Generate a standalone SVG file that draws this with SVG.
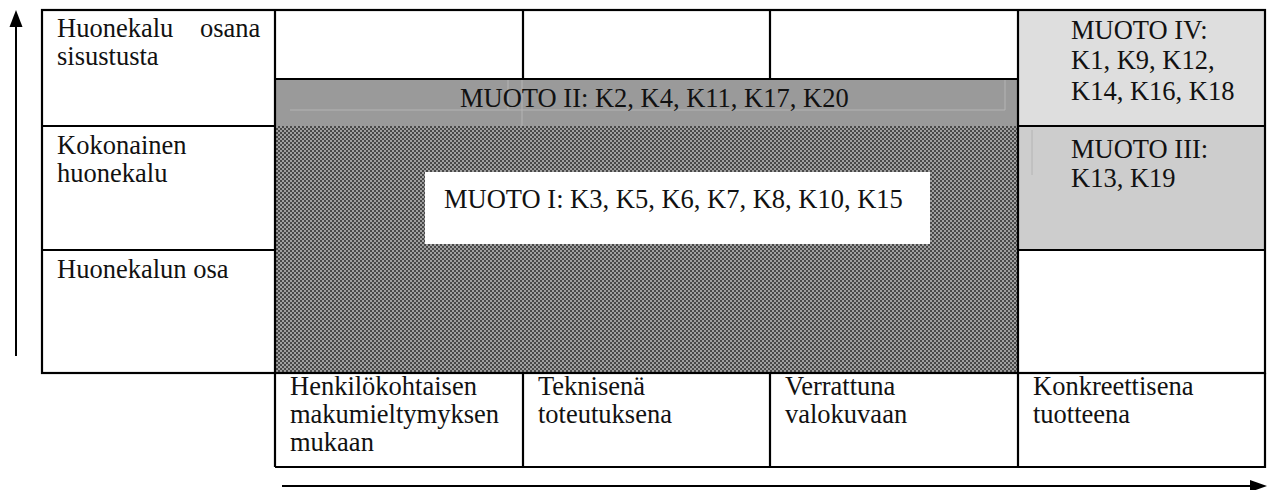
<svg xmlns="http://www.w3.org/2000/svg" width="1268" height="490" viewBox="0 0 1268 490">
  <defs>
    <!-- fine dither used for the MUOTO I area -->
    <pattern id="dither" width="4" height="4" patternUnits="userSpaceOnUse">
      <rect width="4" height="4" fill="#a0a0a0"/>
      <rect x="0" y="0" width="2" height="2" fill="#484848"/>
      <rect x="2" y="2" width="2" height="2" fill="#484848"/>
    </pattern>
  </defs>
  <style>
    text { font-family: "Liberation Serif", "Times New Roman", serif; font-size: 26.5px; fill: #111; }
    .grid { stroke: #000; stroke-width: 2.2; fill: none; }
    .faint { stroke: #b4b4b4; stroke-width: 1; fill: none; }
    .axis { stroke: #000; stroke-width: 2; fill: none; }
  </style>

  <rect width="1268" height="490" fill="#fff"/>

  <!-- shaded areas -->
  <g id="muoto-1-area">
    <rect x="275" y="126" width="743" height="247" fill="url(#dither)"/>
  </g>
  <g id="muoto-2">
    <rect x="275" y="79" width="743" height="47" fill="#9a9a9a"/>
    <line class="faint" x1="290" y1="110" x2="1005" y2="110"/>
    <line class="faint" x1="508" y1="79" x2="508" y2="110"/>
    <line class="faint" x1="522" y1="79" x2="522" y2="126"/>
    <line class="faint" x1="1005" y1="79" x2="1005" y2="110"/>
    <text x="460" y="107">MUOTO II: K2, K4, K11, K17, K20</text>
  </g>
  <g id="muoto-4">
    <rect x="1018" y="10" width="247" height="116" fill="#dedede"/>
    <text x="1071" y="39">MUOTO IV:</text>
    <text x="1071" y="69">K1, K9, K12,</text>
    <text x="1071" y="100">K14, K16, K18</text>
  </g>
  <g id="muoto-3">
    <rect x="1018" y="126" width="247" height="124" fill="#cdcdcd"/>
    <line class="faint" x1="1032" y1="130" x2="1032" y2="175"/>
    <text x="1071" y="158">MUOTO III:</text>
    <text x="1071" y="187">K13, K19</text>
  </g>
  <g id="muoto-1">
    <rect x="425" y="172" width="505" height="72" fill="#fff"/>
    <text x="444" y="208">MUOTO I: K3, K5, K6, K7, K8, K10, K15</text>
  </g>

  <!-- table rules -->
  <g id="table">
    <rect class="grid" x="42" y="10" width="1223" height="363"/>
    <line class="grid" x1="275" y1="10" x2="275" y2="467"/>
    <line class="grid" x1="1018" y1="10" x2="1018" y2="467"/>
    <line class="grid" x1="523" y1="10" x2="523" y2="79"/>
    <line class="grid" x1="770" y1="10" x2="770" y2="79"/>
    <line class="grid" x1="275" y1="79" x2="1018" y2="79"/>
    <line class="grid" x1="42" y1="126" x2="275" y2="126"/>
    <line class="grid" x1="1018" y1="126" x2="1265" y2="126"/>
    <line class="grid" x1="42" y1="250" x2="275" y2="250"/>
    <line class="grid" x1="1018" y1="250" x2="1265" y2="250"/>
    <polyline class="grid" points="275,467 1265,467 1265,373"/>
    <line class="grid" x1="523" y1="373" x2="523" y2="467"/>
    <line class="grid" x1="770" y1="373" x2="770" y2="467"/>
  </g>

  <!-- row labels -->
  <g id="row-sisustus">
    <text x="57" y="37" word-spacing="20">Huonekalu osana</text>
    <text x="57" y="65">sisustusta</text>
  </g>
  <g id="row-kokonainen">
    <text x="57" y="154">Kokonainen</text>
    <text x="57" y="182">huonekalu</text>
  </g>
  <g id="row-osa">
    <text x="57" y="278">Huonekalun osa</text>
  </g>

  <!-- column labels -->
  <g id="col-henkilokohtainen">
    <text x="290" y="395">Henkilökohtaisen</text>
    <text x="290" y="423">makumieltymyksen</text>
    <text x="290" y="451">mukaan</text>
  </g>
  <g id="col-tekninen">
    <text x="538" y="395">Teknisenä</text>
    <text x="538" y="423">toteutuksena</text>
  </g>
  <g id="col-valokuva">
    <text x="785" y="395">Verrattuna</text>
    <text x="785" y="423">valokuvaan</text>
  </g>
  <g id="col-konkreettinen">
    <text x="1033" y="395">Konkreettisena</text>
    <text x="1033" y="423">tuotteena</text>
  </g>

  <!-- axis arrows -->
  <g id="connectors">
    <line class="axis" x1="16" y1="356" x2="16" y2="24"/>
    <polygon points="16,10 9.5,27 22.5,27" fill="#000"/>
    <line class="axis" x1="282" y1="486" x2="1252" y2="486"/>
    <polygon points="1267,486 1250,480 1250,492" fill="#000"/>
  </g>
</svg>
